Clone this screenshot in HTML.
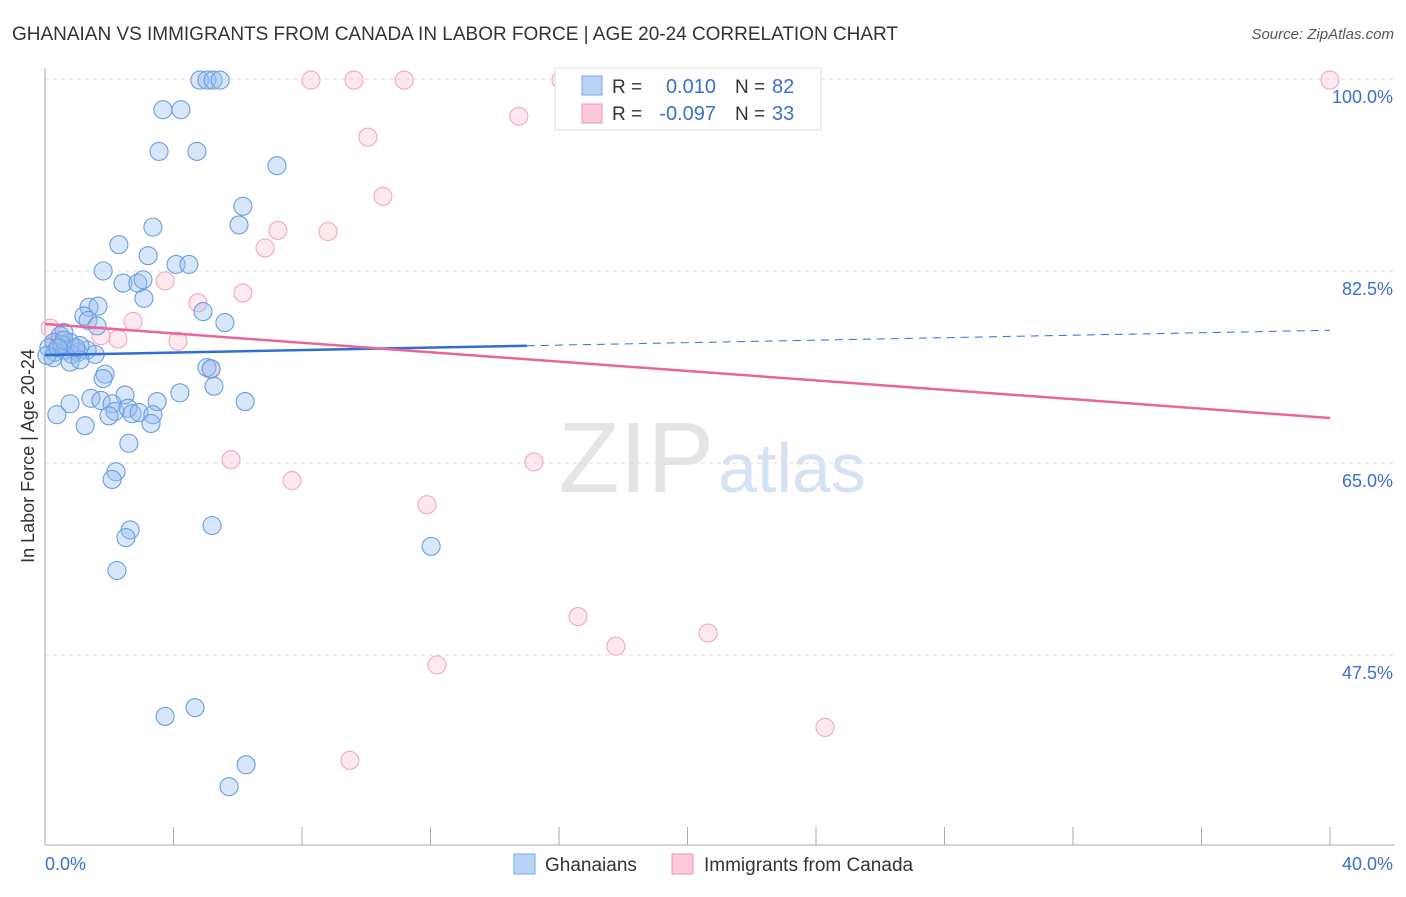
<!DOCTYPE html>
<html><head><meta charset="utf-8"><style>
body{margin:0;background:#fff;font-family:"Liberation Sans",sans-serif}
svg text{font-family:"Liberation Sans",sans-serif}
</style></head><body>
<svg id="c" width="1406" height="892">
<text x="12" y="40" font-size="19" fill="#333" textLength="886">GHANAIAN VS IMMIGRANTS FROM CANADA IN LABOR FORCE | AGE 20-24 CORRELATION CHART</text>
<text x="1394" y="39" font-size="15" fill="#555" font-style="italic" text-anchor="end">Source: ZipAtlas.com</text>
<text x="714" y="492" font-size="100" fill="#e4e4e4" text-anchor="end" font-family="Liberation Serif">ZIP</text>
<text x="718" y="492" font-size="70" fill="#d4e2f4">atlas</text>
<g id="grid"></g><g id="axes"></g><g id="marks"></g>
<text transform="translate(34,456) rotate(-90)" font-size="18" fill="#333" text-anchor="middle">In Labor Force | Age 20-24</text>
<g>
<rect x="555" y="68" width="266" height="62" fill="#fff" stroke="#ddd"/>
<rect x="582" y="76" width="20" height="19" fill="#b9d3f5" stroke="#7aa6e6"/>
<rect x="582" y="104" width="20" height="19" fill="#fbc9d8" stroke="#ee94b0"/>
<text x="612" y="93" font-size="19" fill="#333">R = </text><text x="716" y="93" font-size="20" fill="#3a6fd0" text-anchor="end">0.010</text>
<text x="735" y="93" font-size="19" fill="#333">N = </text><text x="772" y="93" font-size="20" fill="#3a6fd0">82</text>
<text x="612" y="120" font-size="19" fill="#333">R = </text><text x="716" y="120" font-size="20" fill="#3a6fd0" text-anchor="end">-0.097</text>
<text x="735" y="120" font-size="19" fill="#333">N = </text><text x="772" y="120" font-size="20" fill="#3a6fd0">33</text>
</g>
<g>
<rect x="514" y="854" width="21" height="20" fill="#b9d3f5" stroke="#7aa6e6"/>
<text x="545" y="871" font-size="19" fill="#333">Ghanaians</text>
<rect x="672" y="854" width="21" height="20" fill="#fbc9d8" stroke="#ee94b0"/>
<text x="704" y="871" font-size="19" fill="#333">Immigrants from Canada</text>
</g>
</svg>
<script>
const blueX=[4.82,5.04,5.23,5.45,3.67,4.23,3.55,4.73,7.22,6.16,6.04,3.36,2.30,3.21,4.08,4.48,1.81,2.43,2.89,3.05,3.08,1.37,1.65,1.21,1.34,1.62,4.92,5.60,0.59,0.47,0.28,0.78,0.12,0.31,0.62,1.03,0.84,1.31,1.56,1.09,0.53,0.25,0.78,1.09,5.04,5.17,1.87,1.81,5.26,4.20,2.49,1.43,1.74,0.78,3.49,6.23,0.37,2.09,2.18,2.58,2.71,1.99,2.93,3.36,3.30,1.25,2.61,2.21,2.09,5.20,2.65,2.52,2.24,12.02,3.74,4.67,6.26,5.73,0.59,0.96,0.06,0.40];
const blueY=[99.9,99.9,99.9,99.9,97.2,97.2,93.4,93.4,92.1,88.4,86.7,86.5,84.9,83.9,83.1,83.1,82.5,81.4,81.4,81.7,80.0,79.2,79.3,78.4,78.0,77.5,78.8,77.8,76.9,76.6,76.0,76.0,75.5,75.1,75.3,75.1,74.9,75.3,74.9,75.7,75.8,74.6,74.2,74.4,73.7,73.6,73.1,72.7,72.0,71.4,71.2,70.9,70.7,70.4,70.6,70.6,69.4,70.4,69.7,70.0,69.5,69.3,69.6,69.4,68.6,68.4,66.8,64.2,63.5,59.3,58.9,58.2,55.2,57.4,41.9,42.7,37.5,35.5,76.2,75.5,74.8,75.5];
const pinkX=[8.28,9.62,11.18,16.06,40.0,14.75,10.05,10.52,7.25,8.81,6.85,6.16,3.74,4.76,2.74,1.74,2.27,4.14,5.17,0.16,0.47,0.31,0.93,5.79,7.69,15.22,11.89,16.59,17.77,20.64,12.20,24.28,9.49];
const pinkY=[99.9,99.9,99.9,99.9,99.9,96.6,94.7,89.3,86.2,86.1,84.6,80.5,81.6,79.6,77.9,76.6,76.3,76.1,73.5,77.3,76.2,75.8,75.3,65.3,63.4,65.1,61.2,51.0,48.3,49.5,46.6,40.9,37.9];
const yTicks=[100,82.5,65,47.5];
const yTickLabels=["100.0%","82.5%","65.0%","47.5%"];
const xTicks=[0,4,8,12,16,20,24,28,32,36,40];
const xEndLabels=["0.0%","40.0%"];
const blueTrend=[74.84,77.1];
const pinkTrend=[77.67,69.1];
const blueSolidEnd=15;
const NS="http://www.w3.org/2000/svg";
const sx=v=>45+v*1285/40, sy=v=>79+(100-v)*192/17.5;
function mk(t,a,p){const e=document.createElementNS(NS,t);for(const k in a)e.setAttribute(k,a[k]);p.appendChild(e);return e;}
const grid=document.getElementById('grid'),axes=document.getElementById('axes'),marks=document.getElementById('marks');
yTicks.forEach((v,i)=>{
 const l=mk('line',{x1:45,x2:1394,y1:sy(v),y2:sy(v),stroke:'#ddd','stroke-dasharray':'4,4'},grid);
 
 
 const t=mk('text',{x:1393,y:sy(v)+24,'font-size':18,fill:'#3a6fd0','text-anchor':'end'},axes);t.textContent=yTickLabels[i];
 
 
});
const ya=mk('line',{x1:45,x2:45,y1:68,y2:845,stroke:'#aaa'},axes);


const xa=mk('line',{x1:45,x2:1394,y1:845,y2:845,stroke:'#aaa'},axes);


xTicks.forEach(v=>{const t=mk('line',{x1:sx(v),x2:sx(v),y1:827,y2:845,stroke:'#aaa'},axes);
 
 });
const xl0=mk('text',{x:45,y:870,'font-size':18,fill:'#3a6fd0'},axes);xl0.textContent=xEndLabels[0];


const xl1=mk('text',{x:1393,y:870,'font-size':18,fill:'#3a6fd0','text-anchor':'end'},axes);xl1.textContent=xEndLabels[1];


pinkX.forEach((x,i)=>{const c=mk('circle',{cx:sx(x),cy:sy(pinkY[i]),r:9,fill:'rgba(248,180,200,0.3)',stroke:'#f0a8be','stroke-width':1.1},marks);
 
 });
blueX.forEach((x,i)=>{const c=mk('circle',{cx:sx(x),cy:sy(blueY[i]),r:9,fill:'rgba(150,190,240,0.38)',stroke:'#6a9de0','stroke-width':1.1},marks);
 
 });
const by=x=>blueTrend[0]+(blueTrend[1]-blueTrend[0])*x/40;
const b1=mk('line',{x1:sx(0),y1:sy(by(0)),x2:sx(blueSolidEnd),y2:sy(by(blueSolidEnd)),stroke:'#2f6fd4','stroke-width':2.5},marks);


const b2=mk('line',{x1:sx(blueSolidEnd),y1:sy(by(blueSolidEnd)),x2:sx(40),y2:sy(by(40)),stroke:'#2f6fd4','stroke-width':1,'stroke-dasharray':'8,6'},marks);


const p1=mk('line',{x1:sx(0),y1:sy(pinkTrend[0]),x2:sx(40),y2:sy(pinkTrend[1]),stroke:'#e8679a','stroke-width':2.5},marks);


</script>
</body></html>
